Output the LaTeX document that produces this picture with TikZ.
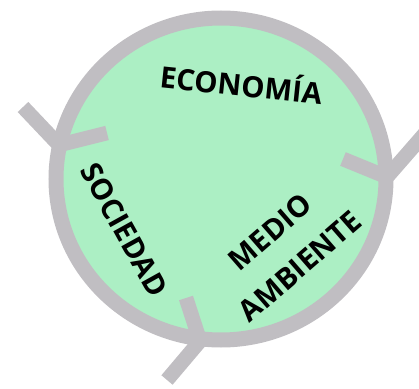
\documentclass[tikz,border=0pt]{standalone}
\usepackage{fontspec}
\setmainfont{Open Sans}
\usepackage{tikz}
\usetikzlibrary{positioning}
\definecolor{colorring}{RGB}{192,190,194}
\definecolor{colorfill}{RGB}{172,239,196}

\begin{document}
\begin{tikzpicture}[
    x=0.75pt, y=-0.75pt,
    font={\fontsize{22}{34}\selectfont\bfseries},
    basetext/.style={inner sep=0pt,align=center},
    basering/.style={draw=colorring,line width=11.25pt},
    basearm/.style={draw=colorring,line width=11pt,line join=bevel,line cap=butt},
]
    \useasboundingbox (0,0) rectangle (419,389);

    \path[basering,fill=colorfill] (221,179) ellipse [x radius=123.75pt, y radius=120.75pt];

    % the three forks on the ring
    \draw[basearm] (23,107) -- (59,145) -- (107,133);
    \draw[basearm] (428,130) -- (387,177) -- (343,159);
    \draw[basearm] (167,380) -- (200,341) -- (186,298);

    \node[basetext,rotate=-6,anchor=base]  (economia) at (240,96)  {ECONOMÍA};
    \node[basetext,rotate=-61,anchor=base] (sociedad) at (115,235) {SOCIEDAD};
    \node[basetext,rotate=41]              (medio)    at (285,249) {MEDIO\\AMBIENTE};
\end{tikzpicture}
\end{document}
